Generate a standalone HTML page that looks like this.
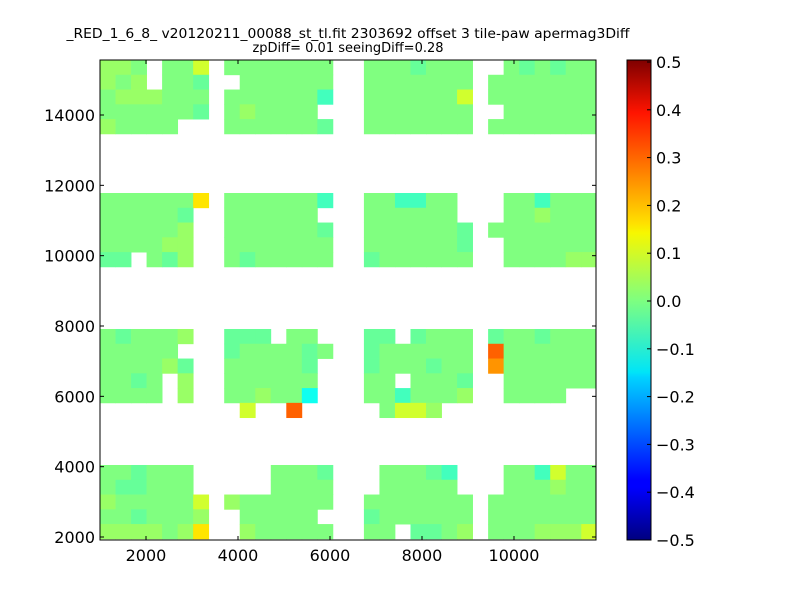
<!DOCTYPE html>
<html><head><meta charset="utf-8"><style>
html,body{margin:0;padding:0;background:#fff;}
svg text{font-family:"DejaVu Sans","Liberation Sans",sans-serif;}
</style></head><body>
<svg id="chart" width="800" height="600" xmlns="http://www.w3.org/2000/svg">
<rect width="800" height="600" fill="#fff"/>
<text x="348" y="38" font-size="13" text-anchor="middle" textLength="563" lengthAdjust="spacingAndGlyphs">_RED_1_6_8_ v20120211_00088_st_tl.fit 2303692 offset 3 tile-paw apermag3Diff</text>
<text x="348" y="52" font-size="13" text-anchor="middle">zpDiff= 0.01 seeingDiff=0.28</text>
<g id="cells"></g>
<g id="axes"></g>
<defs><linearGradient id="jet" x1="0" y1="1" x2="0" y2="0">
<stop offset="0" stop-color="#00007f"/><stop offset="0.11" stop-color="#0000ff"/><stop offset="0.125" stop-color="#0000ff"/><stop offset="0.34" stop-color="#00d4ff"/><stop offset="0.35" stop-color="#00e5f7"/><stop offset="0.5" stop-color="#7fff7f"/><stop offset="0.64" stop-color="#f7f700"/><stop offset="0.66" stop-color="#ffe000"/><stop offset="0.89" stop-color="#ff1400"/><stop offset="1" stop-color="#7f0000"/>
</linearGradient></defs>
<rect x="627" y="60" width="24" height="480" fill="url(#jet)" stroke="#000" stroke-width="1"/>
<g id="cbticks"></g>
</svg>
<script>
// data
const xStart = 1000, cellW = 337.5;
const blockTops = [15564, 11782, 7915, 4048];
const rowH = 420;
const codeValues = {'0':0.0,'+':0.025,'-':-0.025,'=':-0.06,'c':-0.11,'y':0.08,'Y':0.15,'o':0.23,'O':0.28};
const block1 = [
["++0.","00y.","0000","000.",".000","-000","..0-","0-00"],
["+0+.","00-.",".000","000.",".000","0000",".000","0000"],
["0+++","000.","0000","00=.",".000","000y",".000","0000"],
["0000","00-.","0+00","00..",".000","0000","..00","0000"],
["+000","0...","0000","00-.",".000","0000",".000","0000"]];
const block2 = [
["0000","00Y.","0000","00=.",".00=","=00.","..00","=000"],
["0000","0-..","0000","00..",".000","000.","..00","+000"],
["0000","0+..","0000","00-.",".000","000-",".000","0000"],
["0000","++..","0000","000.",".000","000-","..00","0000"],
["--.0","-+..","0-00","000.",".-00","0000","..00","00++"]];
const block3 = [
["0-00","0+..","---.","00..",".--.","-000",".-00","-000"],
["0000","0...","-000","0-0.",".-00","0000",".O00","0000"],
["0000","+-..","0000","0-..",".-00","0-00",".o00","0000"],
["00-0",".+..","0000","00..",".00.","000-","..00","0000"],
["0000",".+..","00+0","0c..",".00=","000+","..00","00.."],
["....","....",".y..","O...","..0y","y+..","....","...."]];
const block4 = [
["00-0","00..","...0","00-.","..00","0-=.","..00","=y00"],
["0--0","00..","...0","000.","..00","000.","..00","0+00"],
["+000","00y.","+000","000.",".000","0000",".000","0000"],
["00-0","00+.",".000","00..",".-00","0000",".000","0000"],
["++++","0+Y.",".+00","000.",".00.","--0+",".000","+++y"]];
const blocks = [block1, block2, block3, block4];
const xTicks = [2000,4000,6000,8000,10000];
const yTicks = [2000,4000,6000,8000,10000,12000,14000];
const cbTicks = [-0.5,-0.4,-0.3,-0.2,-0.1,0.0,0.1,0.2,0.3,0.4,0.5];

const X0=100,X1=596,Y0=60,Y1=540;
const xmin=1000,xmax=11783,ymin=1915,ymax=15564;
const sx=v=>X0+(v-xmin)/(xmax-xmin)*(X1-X0);
const sy=v=>Y1-(v-ymin)/(ymax-ymin)*(Y1-Y0);
function jet(v){let t=(v+0.5);t=Math.max(0,Math.min(1,t));
 const f=x=>Math.max(0,Math.min(1,x));
 const r=f(Math.min(4*t-1.5,-4*t+4.5)),g=f(Math.min(4*t-0.5,-4*t+3.5)),b=f(Math.min(4*t+0.5,-4*t+2.5));
 return `rgb(${Math.round(r*255)},${Math.round(g*255)},${Math.round(b*255)})`;}
const NS="http://www.w3.org/2000/svg";
const cells=document.getElementById('cells');
blocks.forEach((blk,bi)=>{blk.forEach((rowArr,ri)=>{
  const row=rowArr.join('');
  const top=blockTops[bi]-ri*rowH, bot=top-rowH;
  for(let ci=0;ci<Math.min(row.length,32);ci++){const ch=row[ci]; if(!(ch in codeValues))continue;
    const x0=xStart+ci*cellW,x1=x0+cellW;
    const r=document.createElementNS(NS,'rect');
    const px0=Math.max(X0,sx(x0)),px1=Math.min(X1,sx(x1)),py0=Math.max(Y0,sy(top)),py1=Math.min(Y1,sy(bot));
    r.setAttribute('x',px0);r.setAttribute('y',py0);r.setAttribute('width',px1-px0+0.4);r.setAttribute('height',py1-py0+0.4);
    r.setAttribute('fill',jet(codeValues[ch]));
    
    
    cells.appendChild(r);}
});});
const axes=document.getElementById('axes');
function add(tag,attrs,txt){const e=document.createElementNS(NS,tag);for(const k in attrs)e.setAttribute(k,attrs[k]);if(txt!==undefined)e.textContent=txt;return e;}
const frame=add('rect',{x:X0,y:Y0,width:X1-X0,height:Y1-Y0,fill:'none',stroke:'#000','stroke-width':1});


axes.appendChild(frame);
xTicks.forEach(v=>{const x=sx(v);
 axes.appendChild(add('line',{x1:x,x2:x,y1:Y1,y2:Y1-4,stroke:'#000'}));
 axes.appendChild(add('line',{x1:x,x2:x,y1:Y0,y2:Y0+4,stroke:'#000'}));
 const t=add('text',{x:x,y:Y1+21,'font-size':16,'text-anchor':'middle'},String(v));
 
 
 axes.appendChild(t);});
yTicks.forEach(v=>{const y=sy(v);
 axes.appendChild(add('line',{x1:X0,x2:X0+4,y1:y,y2:y,stroke:'#000'}));
 axes.appendChild(add('line',{x1:X1,x2:X1-4,y1:y,y2:y,stroke:'#000'}));
 const t=add('text',{x:X0-5,y:y+6,'font-size':16,'text-anchor':'end'},String(v));
 
 
 axes.appendChild(t);});
const cb=document.getElementById('cbticks');
cbTicks.forEach(v=>{const y=540-(v+0.5)*478;
 cb.appendChild(add('line',{x1:647,x2:651,y1:y,y2:y,stroke:'#000'}));
 const lbl=(v<0?'\u2212':'')+Math.abs(v).toFixed(1);
 const t=add('text',{x:656,y:y+6,'font-size':16},lbl);
 
 
 cb.appendChild(t);});
</script>
</body></html>
